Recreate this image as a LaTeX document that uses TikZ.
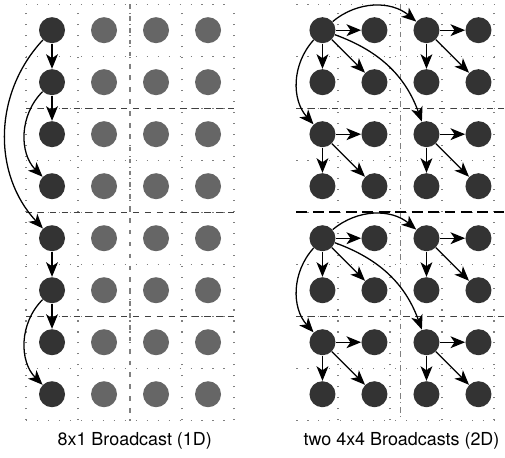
\documentclass[tikz,border=0pt]{standalone}
\usepackage{fontspec}
\setmainfont{TeX Gyre Heros}
\usepackage{xcolor}
\usetikzlibrary{arrows.meta, positioning}
\definecolor{peactive}{HTML}{333333}
\definecolor{peidle}{HTML}{666666}

\begin{document}
\begin{tikzpicture}[>={Stealth[length=8pt,width=6.5pt,inset=2.2pt]},node distance=1cm]
  \tikzstyle{pe}=[circle,minimum size=0.5cm,inner sep=0pt]
  \tikzstyle{active}=[pe,fill=peactive]
  \tikzstyle{idle}=[pe,fill=peidle]
  \tikzstyle{cellline}=[gray,line width=0.7pt,dash pattern=on 0.6pt off 5.4pt]
  \tikzstyle{blockline}=[black!75,line width=0.7pt,dash pattern=on 3.5pt off 3pt]
  \tikzstyle{link}=[->,line width=0.7pt]

  \useasboundingbox (-0.5,0.08) rectangle (9.21,-8.71);

  % cell borders
  \draw[cellline] (0,0) grid (4,-8);
  \draw[cellline] (5.2,0) grid (9.2,-8);
  \foreach \y in {-2,-4,-6} \draw[blockline] (0,\y) -- (4,\y);
  \draw[gray,line width=0.7pt,dash pattern=on 2.5pt off 4pt] (2,0) -- (2,-8);
  \foreach \y in {-2,-6} \draw[blockline] (5.2,\y) -- (9.2,\y);
  \draw[black,line width=0.8pt,dash pattern=on 6pt off 3pt] (5.2,-4) -- (9.2,-4);
  \draw[gray,line width=0.7pt,dash pattern=on 3pt off 2pt on 0.6pt off 2pt] (7.2,0) -- (7.2,-8);

  % processing elements
  \foreach \r in {0,...,7} {
    \node[active] (L-\r-0) at (0.5,-\r-0.5) {};
    \foreach \c in {1,2,3}
      \node[idle] (L-\r-\c) at (\c+0.5,-\r-0.5) {};
    \foreach \c in {0,...,3}
      \node[active] (R-\r-\c) at (\c+5.7,-\r-0.5) {};
  }

  \path[link]
  (L-0-0) edge                 (L-1-0)
  (L-0-0) edge [bend right=43] (L-4-0)
  (L-1-0) edge                 (L-2-0)
  (L-1-0) edge [bend right=45] (L-3-0)
  (L-4-0) edge                 (L-5-0)
  (L-5-0) edge                 (L-6-0)
  (L-5-0) edge [bend right=45] (L-7-0)
  ;

  \foreach \b/\m/\n/\o in {0/1/2/3,4/5/6/7} {
    \path[link]
    (R-\b-0) edge [bend left=40]  (R-\b-2)
    (R-\b-0) edge [bend right=42] (R-\n-0)
    (R-\b-0) edge [bend left=25]  (R-\n-2)
    ;
    \foreach \r/\s in {\b/\m,\n/\o}
      \foreach \c/\d in {0/1,2/3}
        \path[link]
        (R-\r-\c) edge (R-\r-\d)
        (R-\r-\c) edge (R-\s-\c)
        (R-\r-\c) edge (R-\s-\d)
        ;
  }

  \node[font=\fontsize{9.8}{12}\selectfont] (cap1d) at (2.09,-8.4) {8x1 Broadcast (1D)};
  \node[font=\fontsize{9.8}{12}\selectfont] (cap2d) at (7.22,-8.4) {two 4x4 Broadcasts (2D)};
\end{tikzpicture}
\end{document}
